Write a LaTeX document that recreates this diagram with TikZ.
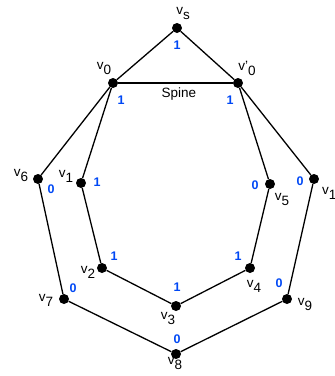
\documentclass[tikz,border=0pt]{standalone}
\usepackage{fontspec}
\setmainfont{Liberation Sans}
\definecolor{wblue}{RGB}{0,72,245}
\newcommand{\vlab}[1]{v\raisebox{-5pt}{#1}}
\begin{document}
\begin{tikzpicture}[x=1pt,y=-1pt,
  dot/.style={circle,fill=black,inner sep=0pt,minimum size=10pt},
  lab/.style={inner sep=0pt,font=\fontsize{13.5}{13.5}\selectfont},
  wt/.style={inner sep=0pt,text=wblue,font=\fontsize{12.5}{12.5}\selectfont\bfseries},
  edge/.style={draw=black,line width=1.3pt}]
\useasboundingbox (0,0) rectangle (335,376);
% vertices
\node[dot] (vs) at (177,28) {};
\node[dot] (v0) at (113,83) {};
\node[dot] (v0p) at (238,83) {};
\node[dot] (v6) at (38,179) {};
\node[dot] (v1) at (81,183) {};
\node[dot] (v5) at (270,184) {};
\node[dot] (v10) at (314,179) {};
\node[dot] (v2) at (102,268) {};
\node[dot] (v4) at (250,268) {};
\node[dot] (v3) at (176,306) {};
\node[dot] (v7) at (64,299) {};
\node[dot] (v9) at (287,299) {};
\node[dot] (v8) at (176,354) {};
% edges
\draw[edge] (vs) -- (v0);
\draw[edge] (vs) -- (v0p);
\draw[edge] (v0) -- (v0p);
\draw[edge] (v0) -- (v6);
\draw[edge] (v0) -- (v1);
\draw[edge] (v1) -- (v2);
\draw[edge] (v2) -- (v3);
\draw[edge] (v3) -- (v4);
\draw[edge] (v4) -- (v5);
\draw[edge] (v5) -- (v0p);
\draw[edge] (v0p) -- (v10);
\draw[edge] (v6) -- (v7);
\draw[edge] (v7) -- (v8);
\draw[edge] (v8) -- (v9);
\draw[edge] (v9) -- (v10);
% vertex labels
\node[lab] (lvs) at (183,13) {\vlab{s}};
\node[lab] (lv0) at (104,68) {\vlab{0}};
\node[lab] (lv0p) at (247,68) {v'\raisebox{-5pt}{0}};
\node[lab] (lv6) at (21,175) {\vlab{6}};
\node[lab] (lv1) at (66,176) {\vlab{1}};
\node[lab] (lv5) at (282,199) {\vlab{5}};
\node[lab] (lv10) at (333,193) {\vlab{10}};
\node[lab] (lv2) at (88,272) {\vlab{2}};
\node[lab] (lv4) at (254,286) {\vlab{4}};
\node[lab] (lv3) at (168,318) {\vlab{3}};
\node[lab] (lv7) at (46,300) {\vlab{7}};
\node[lab] (lv9) at (305,304) {\vlab{9}};
\node[lab] (lv8) at (175,363) {\vlab{8}};
\node[lab,font=\fontsize{13.5}{13.5}\selectfont] (spine) at (179,94) {Spine};
% weights
\node[wt] (wvs) at (177,45) {1};
\node[wt] (wv0) at (121,100) {1};
\node[wt] (wv0p) at (230,100) {1};
\node[wt] (wv6) at (51,189) {0};
\node[wt] (wv1) at (97,182) {1};
\node[wt] (wv5) at (255,185) {0};
\node[wt] (wv10) at (300,181) {0};
\node[wt] (wv2) at (114,256) {1};
\node[wt] (wv4) at (238,256) {1};
\node[wt] (wv3) at (177,287) {1};
\node[wt] (wv7) at (73,288) {0};
\node[wt] (wv9) at (279,283) {0};
\node[wt] (wv8) at (177,339) {0};
\end{tikzpicture}
\end{document}
